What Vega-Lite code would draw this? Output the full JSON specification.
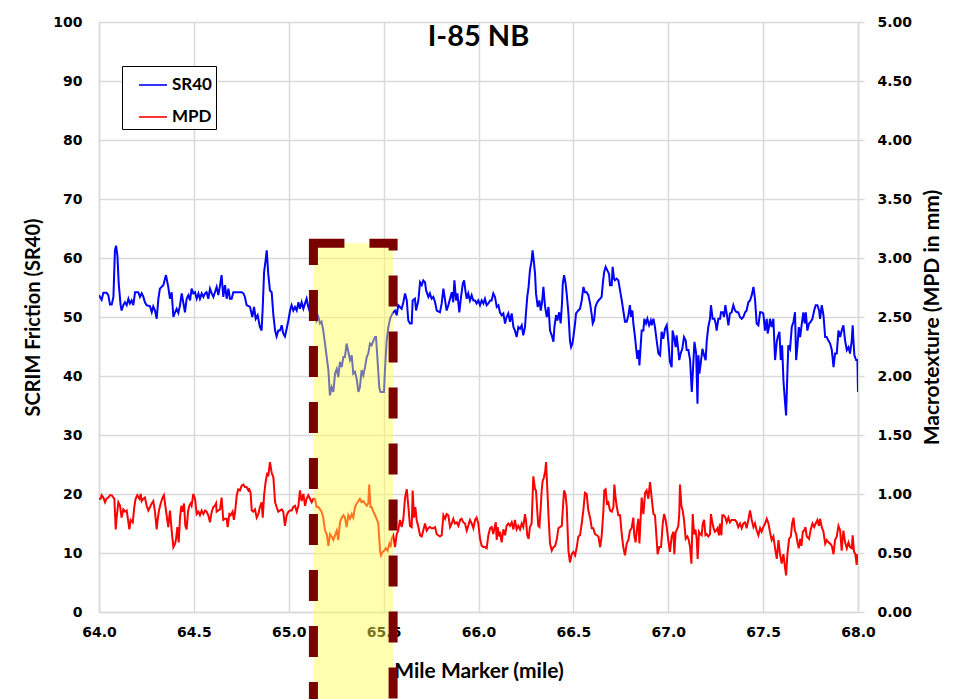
{
  "$schema": "https://vega.github.io/schema/vega-lite/v6.json",
  "width": 759,
  "height": 590,
  "autosize": {"type": "none"},
  "padding": {"left": 99, "top": 22, "right": 101, "bottom": 87},
  "background": "#ffffff",
  "title": {
    "text": "I-85 NB",
    "font": "Lato",
    "fontSize": 29,
    "fontWeight": "bold",
    "color": "#000000",
    "anchor": "middle",
    "offset": -37
  },
  "config": {
    "view": {"stroke": null},
    "axis": {
      "labelFont": "DejaVu Sans",
      "labelFontWeight": "bold",
      "labelFontSize": 14,
      "labelColor": "#000000",
      "labelFlush": false,
      "labelOverlap": false,
      "titleFont": "Lato",
      "titleFontWeight": "bold",
      "titleFontSize": 20,
      "titleColor": "#000000",
      "domainColor": "#d9d9d9",
      "domainWidth": 1.5,
      "gridColor": "#d9d9d9",
      "gridWidth": 1.5,
      "tickColor": "#d9d9d9",
      "tickWidth": 1.5
    }
  },
  "datasets": {
    "sr40": [
      {"mile":64.000,"SR40":53.7},{"mile":64.014,"SR40":52.9},{"mile":64.023,"SR40":54.1},{"mile":64.040,"SR40":54.1},
      {"mile":64.049,"SR40":53.7},{"mile":64.058,"SR40":52.1},{"mile":64.067,"SR40":52.1},{"mile":64.076,"SR40":53.4},
      {"mile":64.084,"SR40":61.3},{"mile":64.090,"SR40":62.1},{"mile":64.097,"SR40":60.4},{"mile":64.104,"SR40":55.6},
      {"mile":64.114,"SR40":52.0},{"mile":64.119,"SR40":51.1},{"mile":64.128,"SR40":52.0},{"mile":64.137,"SR40":52.5},
      {"mile":64.146,"SR40":52.0},{"mile":64.155,"SR40":53.1},{"mile":64.163,"SR40":52.3},{"mile":64.172,"SR40":52.8},
      {"mile":64.181,"SR40":52.0},{"mile":64.190,"SR40":54.2},{"mile":64.207,"SR40":54.2},{"mile":64.216,"SR40":53.4},
      {"mile":64.225,"SR40":54.0},{"mile":64.234,"SR40":53.4},{"mile":64.242,"SR40":52.5},{"mile":64.251,"SR40":52.0},
      {"mile":64.269,"SR40":51.8},{"mile":64.278,"SR40":50.8},{"mile":64.286,"SR40":51.8},{"mile":64.295,"SR40":51.1},
      {"mile":64.304,"SR40":49.7},{"mile":64.313,"SR40":53.1},{"mile":64.321,"SR40":54.8},{"mile":64.339,"SR40":55.4},
      {"mile":64.353,"SR40":57.1},{"mile":64.365,"SR40":55.1},{"mile":64.374,"SR40":53.1},{"mile":64.383,"SR40":54.2},
      {"mile":64.392,"SR40":50.0},{"mile":64.401,"SR40":50.8},{"mile":64.409,"SR40":51.4},{"mile":64.418,"SR40":50.7},
      {"mile":64.427,"SR40":52.0},{"mile":64.436,"SR40":54.0},{"mile":64.444,"SR40":52.5},{"mile":64.453,"SR40":50.8},
      {"mile":64.462,"SR40":53.1},{"mile":64.471,"SR40":53.7},{"mile":64.480,"SR40":52.8},{"mile":64.488,"SR40":54.8},
      {"mile":64.497,"SR40":54.0},{"mile":64.506,"SR40":54.2},{"mile":64.515,"SR40":53.1},{"mile":64.524,"SR40":54.0},
      {"mile":64.532,"SR40":53.1},{"mile":64.541,"SR40":54.0},{"mile":64.550,"SR40":53.4},{"mile":64.559,"SR40":54.0},
      {"mile":64.567,"SR40":54.2},{"mile":64.576,"SR40":53.1},{"mile":64.585,"SR40":54.8},{"mile":64.594,"SR40":54.0},
      {"mile":64.603,"SR40":53.4},{"mile":64.611,"SR40":54.2},{"mile":64.620,"SR40":55.1},{"mile":64.629,"SR40":53.7},
      {"mile":64.638,"SR40":55.4},{"mile":64.646,"SR40":57.1},{"mile":64.655,"SR40":53.4},{"mile":64.664,"SR40":55.4},
      {"mile":64.673,"SR40":53.1},{"mile":64.682,"SR40":54.8},{"mile":64.690,"SR40":53.1},{"mile":64.699,"SR40":53.1},
      {"mile":64.708,"SR40":54.2},{"mile":64.726,"SR40":54.2},{"mile":64.752,"SR40":54.2},{"mile":64.761,"SR40":54.0},
      {"mile":64.769,"SR40":53.4},{"mile":64.778,"SR40":52.0},{"mile":64.796,"SR40":51.7},{"mile":64.808,"SR40":50.0},
      {"mile":64.817,"SR40":51.7},{"mile":64.826,"SR40":49.7},{"mile":64.836,"SR40":50.3},{"mile":64.848,"SR40":48.3},
      {"mile":64.857,"SR40":47.7},{"mile":64.863,"SR40":51.7},{"mile":64.870,"SR40":57.6},{"mile":64.878,"SR40":59.6},
      {"mile":64.884,"SR40":61.3},{"mile":64.892,"SR40":57.3},{"mile":64.901,"SR40":54.5},{"mile":64.910,"SR40":54.2},
      {"mile":64.919,"SR40":50.3},{"mile":64.928,"SR40":47.7},{"mile":64.936,"SR40":46.7},{"mile":64.945,"SR40":47.7},
      {"mile":64.954,"SR40":47.7},{"mile":64.963,"SR40":48.6},{"mile":64.971,"SR40":47.2},{"mile":64.980,"SR40":46.7},
      {"mile":64.989,"SR40":48.0},{"mile":64.998,"SR40":49.4},{"mile":65.007,"SR40":51.1},{"mile":65.015,"SR40":52.0},
      {"mile":65.024,"SR40":51.1},{"mile":65.033,"SR40":51.7},{"mile":65.042,"SR40":51.1},{"mile":65.051,"SR40":52.5},
      {"mile":65.059,"SR40":51.4},{"mile":65.068,"SR40":52.5},{"mile":65.077,"SR40":51.4},{"mile":65.086,"SR40":52.3},
      {"mile":65.094,"SR40":53.1},{"mile":65.103,"SR40":51.7},{"mile":65.112,"SR40":50.8},{"mile":65.117,"SR40":49.7},
      {"mile":65.130,"SR40":51.4},{"mile":65.138,"SR40":52.0},{"mile":65.147,"SR40":49.4},{"mile":65.156,"SR40":50.0},
      {"mile":65.165,"SR40":48.9},{"mile":65.173,"SR40":49.2},{"mile":65.182,"SR40":47.7},{"mile":65.191,"SR40":45.5},
      {"mile":65.200,"SR40":43.2},{"mile":65.209,"SR40":41.0},{"mile":65.217,"SR40":36.7},{"mile":65.226,"SR40":38.1},
      {"mile":65.235,"SR40":37.3},{"mile":65.244,"SR40":40.4},{"mile":65.253,"SR40":41.2},{"mile":65.261,"SR40":39.8},
      {"mile":65.270,"SR40":42.4},{"mile":65.279,"SR40":41.5},{"mile":65.288,"SR40":43.2},{"mile":65.296,"SR40":43.2},
      {"mile":65.305,"SR40":45.5},{"mile":65.314,"SR40":44.1},{"mile":65.323,"SR40":42.7},{"mile":65.332,"SR40":43.5},
      {"mile":65.340,"SR40":40.4},{"mile":65.349,"SR40":40.7},{"mile":65.358,"SR40":39.5},{"mile":65.367,"SR40":37.3},
      {"mile":65.375,"SR40":38.1},{"mile":65.384,"SR40":41.0},{"mile":65.393,"SR40":40.1},{"mile":65.402,"SR40":41.5},
      {"mile":65.411,"SR40":43.2},{"mile":65.419,"SR40":43.8},{"mile":65.428,"SR40":45.5},{"mile":65.437,"SR40":45.2},
      {"mile":65.446,"SR40":46.0},{"mile":65.455,"SR40":46.6},{"mile":65.460,"SR40":46.6},{"mile":65.467,"SR40":43.2},
      {"mile":65.477,"SR40":38.1},{"mile":65.484,"SR40":37.3},{"mile":65.495,"SR40":37.3},{"mile":65.502,"SR40":37.3},
      {"mile":65.507,"SR40":41.0},{"mile":65.516,"SR40":46.0},{"mile":65.525,"SR40":48.3},{"mile":65.534,"SR40":49.7},
      {"mile":65.542,"SR40":50.3},{"mile":65.551,"SR40":50.8},{"mile":65.560,"SR40":51.1},{"mile":65.569,"SR40":50.3},
      {"mile":65.577,"SR40":52.0},{"mile":65.586,"SR40":51.7},{"mile":65.595,"SR40":51.4},{"mile":65.604,"SR40":52.5},
      {"mile":65.613,"SR40":54.0},{"mile":65.622,"SR40":52.8},{"mile":65.630,"SR40":49.4},{"mile":65.639,"SR40":48.9},
      {"mile":65.648,"SR40":48.9},{"mile":65.653,"SR40":52.8},{"mile":65.665,"SR40":53.1},{"mile":65.671,"SR40":51.1},
      {"mile":65.683,"SR40":52.8},{"mile":65.692,"SR40":55.9},{"mile":65.701,"SR40":55.4},{"mile":65.709,"SR40":56.2},
      {"mile":65.718,"SR40":55.9},{"mile":65.724,"SR40":54.5},{"mile":65.736,"SR40":53.4},{"mile":65.744,"SR40":54.0},
      {"mile":65.753,"SR40":53.1},{"mile":65.762,"SR40":53.4},{"mile":65.771,"SR40":52.5},{"mile":65.780,"SR40":51.1},
      {"mile":65.797,"SR40":50.8},{"mile":65.806,"SR40":52.3},{"mile":65.815,"SR40":54.8},{"mile":65.824,"SR40":52.8},
      {"mile":65.832,"SR40":51.1},{"mile":65.841,"SR40":52.0},{"mile":65.850,"SR40":53.1},{"mile":65.859,"SR40":54.2},
      {"mile":65.867,"SR40":52.5},{"mile":65.873,"SR40":56.2},{"mile":65.882,"SR40":52.8},{"mile":65.889,"SR40":54.0},
      {"mile":65.899,"SR40":50.8},{"mile":65.908,"SR40":53.4},{"mile":65.917,"SR40":55.6},{"mile":65.924,"SR40":56.2},
      {"mile":65.932,"SR40":54.2},{"mile":65.938,"SR40":53.1},{"mile":65.946,"SR40":54.0},{"mile":65.955,"SR40":52.8},
      {"mile":65.964,"SR40":53.7},{"mile":65.973,"SR40":52.8},{"mile":65.982,"SR40":52.8},{"mile":65.990,"SR40":52.3},
      {"mile":65.999,"SR40":52.8},{"mile":66.008,"SR40":52.0},{"mile":66.017,"SR40":52.8},{"mile":66.026,"SR40":52.3},
      {"mile":66.034,"SR40":53.1},{"mile":66.043,"SR40":52.0},{"mile":66.052,"SR40":52.3},{"mile":66.061,"SR40":52.8},
      {"mile":66.069,"SR40":52.8},{"mile":66.078,"SR40":54.0},{"mile":66.087,"SR40":53.4},{"mile":66.096,"SR40":51.7},
      {"mile":66.105,"SR40":52.0},{"mile":66.113,"SR40":50.8},{"mile":66.122,"SR40":50.3},{"mile":66.131,"SR40":50.6},
      {"mile":66.140,"SR40":48.9},{"mile":66.148,"SR40":50.0},{"mile":66.157,"SR40":50.6},{"mile":66.166,"SR40":49.2},
      {"mile":66.175,"SR40":50.6},{"mile":66.184,"SR40":48.3},{"mile":66.192,"SR40":47.7},{"mile":66.201,"SR40":46.6},
      {"mile":66.210,"SR40":48.3},{"mile":66.219,"SR40":48.0},{"mile":66.228,"SR40":48.6},{"mile":66.236,"SR40":46.9},
      {"mile":66.245,"SR40":48.3},{"mile":66.250,"SR40":50.6},{"mile":66.257,"SR40":53.4},{"mile":66.264,"SR40":55.1},
      {"mile":66.271,"SR40":57.9},{"mile":66.280,"SR40":59.6},{"mile":66.285,"SR40":61.3},{"mile":66.293,"SR40":59.0},
      {"mile":66.298,"SR40":57.3},{"mile":66.303,"SR40":54.0},{"mile":66.312,"SR40":51.7},{"mile":66.321,"SR40":52.8},
      {"mile":66.328,"SR40":51.1},{"mile":66.335,"SR40":52.5},{"mile":66.342,"SR40":55.1},{"mile":66.351,"SR40":51.7},
      {"mile":66.360,"SR40":50.0},{"mile":66.369,"SR40":51.7},{"mile":66.377,"SR40":47.7},{"mile":66.386,"SR40":46.9},
      {"mile":66.395,"SR40":45.8},{"mile":66.400,"SR40":48.3},{"mile":66.409,"SR40":50.3},{"mile":66.416,"SR40":49.4},
      {"mile":66.425,"SR40":50.8},{"mile":66.433,"SR40":48.9},{"mile":66.440,"SR40":52.3},{"mile":66.444,"SR40":55.6},
      {"mile":66.451,"SR40":57.1},{"mile":66.458,"SR40":55.9},{"mile":66.465,"SR40":53.9},{"mile":66.474,"SR40":50.6},
      {"mile":66.482,"SR40":46.0},{"mile":66.488,"SR40":44.9},{"mile":66.495,"SR40":45.5},{"mile":66.500,"SR40":46.6},
      {"mile":66.509,"SR40":48.9},{"mile":66.514,"SR40":50.6},{"mile":66.526,"SR40":51.1},{"mile":66.535,"SR40":51.4},
      {"mile":66.544,"SR40":52.8},{"mile":66.553,"SR40":55.1},{"mile":66.561,"SR40":54.2},{"mile":66.570,"SR40":54.2},
      {"mile":66.579,"SR40":53.7},{"mile":66.588,"SR40":52.3},{"mile":66.597,"SR40":50.3},{"mile":66.602,"SR40":48.9},
      {"mile":66.609,"SR40":49.4},{"mile":66.616,"SR40":51.7},{"mile":66.623,"SR40":52.3},{"mile":66.632,"SR40":52.8},
      {"mile":66.641,"SR40":53.1},{"mile":66.649,"SR40":53.4},{"mile":66.655,"SR40":55.6},{"mile":66.662,"SR40":57.6},
      {"mile":66.670,"SR40":58.5},{"mile":66.679,"SR40":57.9},{"mile":66.688,"SR40":57.3},{"mile":66.693,"SR40":55.4},
      {"mile":66.702,"SR40":55.4},{"mile":66.707,"SR40":58.5},{"mile":66.714,"SR40":56.5},{"mile":66.719,"SR40":56.2},
      {"mile":66.728,"SR40":56.5},{"mile":66.737,"SR40":56.2},{"mile":66.746,"SR40":54.5},{"mile":66.755,"SR40":52.8},
      {"mile":66.763,"SR40":51.1},{"mile":66.772,"SR40":49.2},{"mile":66.781,"SR40":49.2},{"mile":66.790,"SR40":50.3},
      {"mile":66.798,"SR40":52.0},{"mile":66.804,"SR40":50.0},{"mile":66.811,"SR40":51.1},{"mile":66.816,"SR40":48.9},
      {"mile":66.825,"SR40":46.6},{"mile":66.830,"SR40":44.9},{"mile":66.837,"SR40":42.9},{"mile":66.844,"SR40":44.4},
      {"mile":66.848,"SR40":41.8},{"mile":66.860,"SR40":47.7},{"mile":66.869,"SR40":47.7},{"mile":66.874,"SR40":49.7},
      {"mile":66.883,"SR40":48.9},{"mile":66.890,"SR40":49.7},{"mile":66.899,"SR40":48.6},{"mile":66.908,"SR40":49.4},
      {"mile":66.913,"SR40":48.6},{"mile":66.922,"SR40":49.7},{"mile":66.930,"SR40":48.3},{"mile":66.939,"SR40":46.0},
      {"mile":66.948,"SR40":43.8},{"mile":66.957,"SR40":43.5},{"mile":66.965,"SR40":47.5},{"mile":66.974,"SR40":46.3},
      {"mile":66.983,"SR40":48.0},{"mile":66.992,"SR40":48.6},{"mile":67.000,"SR40":46.0},{"mile":67.009,"SR40":42.4},
      {"mile":67.018,"SR40":41.5},{"mile":67.023,"SR40":47.7},{"mile":67.032,"SR40":46.3},{"mile":67.039,"SR40":44.9},
      {"mile":67.044,"SR40":46.9},{"mile":67.053,"SR40":44.4},{"mile":67.058,"SR40":42.7},{"mile":67.065,"SR40":43.8},
      {"mile":67.074,"SR40":44.6},{"mile":67.083,"SR40":46.6},{"mile":67.092,"SR40":46.0},{"mile":67.097,"SR40":44.4},
      {"mile":67.106,"SR40":44.4},{"mile":67.115,"SR40":42.7},{"mile":67.124,"SR40":37.3},{"mile":67.132,"SR40":42.1},
      {"mile":67.138,"SR40":45.8},{"mile":67.147,"SR40":43.8},{"mile":67.154,"SR40":35.3},{"mile":67.159,"SR40":43.5},
      {"mile":67.164,"SR40":40.4},{"mile":67.171,"SR40":42.1},{"mile":67.180,"SR40":44.6},{"mile":67.189,"SR40":43.5},
      {"mile":67.197,"SR40":42.7},{"mile":67.203,"SR40":46.0},{"mile":67.211,"SR40":48.3},{"mile":67.220,"SR40":49.7},
      {"mile":67.225,"SR40":52.0},{"mile":67.234,"SR40":49.7},{"mile":67.243,"SR40":49.7},{"mile":67.250,"SR40":48.9},
      {"mile":67.255,"SR40":47.7},{"mile":67.264,"SR40":49.7},{"mile":67.273,"SR40":49.7},{"mile":67.278,"SR40":50.8},
      {"mile":67.287,"SR40":50.8},{"mile":67.294,"SR40":50.0},{"mile":67.301,"SR40":52.0},{"mile":67.308,"SR40":50.6},
      {"mile":67.317,"SR40":48.6},{"mile":67.325,"SR40":50.6},{"mile":67.334,"SR40":50.8},{"mile":67.343,"SR40":52.0},
      {"mile":67.352,"SR40":51.1},{"mile":67.361,"SR40":50.8},{"mile":67.369,"SR40":50.8},{"mile":67.378,"SR40":50.0},
      {"mile":67.387,"SR40":49.7},{"mile":67.396,"SR40":50.0},{"mile":67.405,"SR40":50.8},{"mile":67.413,"SR40":51.1},
      {"mile":67.422,"SR40":52.5},{"mile":67.431,"SR40":52.8},{"mile":67.440,"SR40":53.7},{"mile":67.449,"SR40":55.1},
      {"mile":67.457,"SR40":53.1},{"mile":67.466,"SR40":48.9},{"mile":67.475,"SR40":48.6},{"mile":67.484,"SR40":50.8},
      {"mile":67.492,"SR40":50.8},{"mile":67.501,"SR40":50.6},{"mile":67.510,"SR40":47.7},{"mile":67.519,"SR40":49.7},
      {"mile":67.524,"SR40":47.2},{"mile":67.531,"SR40":48.3},{"mile":67.536,"SR40":49.7},{"mile":67.545,"SR40":48.3},
      {"mile":67.554,"SR40":49.7},{"mile":67.563,"SR40":42.7},{"mile":67.572,"SR40":45.8},{"mile":67.577,"SR40":46.6},
      {"mile":67.586,"SR40":47.5},{"mile":67.593,"SR40":42.7},{"mile":67.600,"SR40":45.2},{"mile":67.607,"SR40":39.3},
      {"mile":67.616,"SR40":35.3},{"mile":67.621,"SR40":33.3},{"mile":67.628,"SR40":40.7},{"mile":67.633,"SR40":45.2},
      {"mile":67.642,"SR40":44.6},{"mile":67.651,"SR40":48.3},{"mile":67.660,"SR40":49.2},{"mile":67.668,"SR40":50.8},
      {"mile":67.674,"SR40":42.7},{"mile":67.681,"SR40":45.2},{"mile":67.688,"SR40":48.3},{"mile":67.695,"SR40":46.6},
      {"mile":67.704,"SR40":48.9},{"mile":67.712,"SR40":50.8},{"mile":67.719,"SR40":48.9},{"mile":67.725,"SR40":50.8},
      {"mile":67.733,"SR40":47.7},{"mile":67.742,"SR40":48.9},{"mile":67.751,"SR40":49.2},{"mile":67.760,"SR40":49.7},
      {"mile":67.769,"SR40":51.1},{"mile":67.777,"SR40":52.0},{"mile":67.786,"SR40":52.0},{"mile":67.795,"SR40":51.1},
      {"mile":67.800,"SR40":49.7},{"mile":67.809,"SR40":52.0},{"mile":67.818,"SR40":50.3},{"mile":67.827,"SR40":46.6},
      {"mile":67.835,"SR40":46.6},{"mile":67.844,"SR40":46.0},{"mile":67.853,"SR40":45.5},{"mile":67.862,"SR40":44.4},
      {"mile":67.871,"SR40":41.5},{"mile":67.879,"SR40":43.8},{"mile":67.888,"SR40":43.8},{"mile":67.897,"SR40":47.7},
      {"mile":67.906,"SR40":46.6},{"mile":67.914,"SR40":47.7},{"mile":67.923,"SR40":48.6},{"mile":67.932,"SR40":46.0},
      {"mile":67.941,"SR40":44.4},{"mile":67.950,"SR40":44.9},{"mile":67.958,"SR40":43.8},{"mile":67.967,"SR40":46.0},
      {"mile":67.972,"SR40":48.6},{"mile":67.976,"SR40":46.0},{"mile":67.981,"SR40":43.5},{"mile":67.990,"SR40":42.7},
      {"mile":67.997,"SR40":42.7},{"mile":68.000,"SR40":37.3}
    ],
    "mpd": [
      {"mile":64.000,"MPD":0.96},{"mile":64.009,"MPD":0.96},{"mile":64.014,"MPD":0.99},{"mile":64.023,"MPD":0.97},
      {"mile":64.032,"MPD":0.93},{"mile":64.040,"MPD":0.96},{"mile":64.049,"MPD":0.97},{"mile":64.058,"MPD":0.99},
      {"mile":64.067,"MPD":0.99},{"mile":64.076,"MPD":0.97},{"mile":64.081,"MPD":0.96},{"mile":64.088,"MPD":0.70},
      {"mile":64.093,"MPD":0.80},{"mile":64.102,"MPD":0.93},{"mile":64.111,"MPD":0.90},{"mile":64.119,"MPD":0.80},
      {"mile":64.128,"MPD":0.87},{"mile":64.137,"MPD":0.85},{"mile":64.146,"MPD":0.86},{"mile":64.155,"MPD":0.76},
      {"mile":64.160,"MPD":0.70},{"mile":64.167,"MPD":0.78},{"mile":64.178,"MPD":0.76},{"mile":64.186,"MPD":0.89},
      {"mile":64.193,"MPD":0.96},{"mile":64.202,"MPD":0.99},{"mile":64.213,"MPD":0.96},{"mile":64.220,"MPD":1.00},
      {"mile":64.225,"MPD":0.94},{"mile":64.234,"MPD":0.96},{"mile":64.242,"MPD":0.97},{"mile":64.251,"MPD":0.90},
      {"mile":64.260,"MPD":0.86},{"mile":64.269,"MPD":0.89},{"mile":64.278,"MPD":0.92},{"mile":64.286,"MPD":0.94},
      {"mile":64.295,"MPD":0.85},{"mile":64.304,"MPD":0.70},{"mile":64.309,"MPD":0.78},{"mile":64.316,"MPD":0.86},
      {"mile":64.325,"MPD":0.92},{"mile":64.335,"MPD":0.97},{"mile":64.342,"MPD":0.99},{"mile":64.353,"MPD":0.86},
      {"mile":64.365,"MPD":0.72},{"mile":64.374,"MPD":0.86},{"mile":64.383,"MPD":0.69},{"mile":64.392,"MPD":0.55},
      {"mile":64.401,"MPD":0.58},{"mile":64.406,"MPD":0.62},{"mile":64.413,"MPD":0.72},{"mile":64.420,"MPD":0.59},
      {"mile":64.427,"MPD":0.80},{"mile":64.434,"MPD":0.90},{"mile":64.441,"MPD":0.85},{"mile":64.448,"MPD":0.92},
      {"mile":64.455,"MPD":0.73},{"mile":64.462,"MPD":0.70},{"mile":64.469,"MPD":0.85},{"mile":64.476,"MPD":0.90},
      {"mile":64.483,"MPD":0.92},{"mile":64.488,"MPD":0.90},{"mile":64.497,"MPD":1.00},{"mile":64.506,"MPD":0.96},
      {"mile":64.515,"MPD":0.83},{"mile":64.524,"MPD":0.85},{"mile":64.532,"MPD":0.82},{"mile":64.541,"MPD":0.86},
      {"mile":64.550,"MPD":0.83},{"mile":64.559,"MPD":0.86},{"mile":64.567,"MPD":0.85},{"mile":64.576,"MPD":0.82},
      {"mile":64.585,"MPD":0.76},{"mile":64.594,"MPD":0.85},{"mile":64.603,"MPD":0.89},{"mile":64.611,"MPD":0.90},
      {"mile":64.617,"MPD":0.92},{"mile":64.620,"MPD":0.85},{"mile":64.629,"MPD":0.86},{"mile":64.638,"MPD":0.87},
      {"mile":64.646,"MPD":0.97},{"mile":64.655,"MPD":0.78},{"mile":64.664,"MPD":0.79},{"mile":64.673,"MPD":0.79},
      {"mile":64.678,"MPD":0.72},{"mile":64.687,"MPD":0.83},{"mile":64.694,"MPD":0.82},{"mile":64.704,"MPD":0.85},
      {"mile":64.711,"MPD":0.78},{"mile":64.718,"MPD":0.86},{"mile":64.726,"MPD":0.99},{"mile":64.734,"MPD":1.04},
      {"mile":64.743,"MPD":1.03},{"mile":64.752,"MPD":1.07},{"mile":64.761,"MPD":1.08},{"mile":64.769,"MPD":1.06},
      {"mile":64.778,"MPD":1.06},{"mile":64.787,"MPD":1.03},{"mile":64.792,"MPD":1.04},{"mile":64.799,"MPD":1.01},
      {"mile":64.805,"MPD":0.86},{"mile":64.813,"MPD":0.85},{"mile":64.822,"MPD":0.87},{"mile":64.831,"MPD":0.80},
      {"mile":64.840,"MPD":0.83},{"mile":64.848,"MPD":0.89},{"mile":64.857,"MPD":0.93},{"mile":64.863,"MPD":0.80},
      {"mile":64.870,"MPD":0.99},{"mile":64.878,"MPD":1.10},{"mile":64.887,"MPD":1.18},{"mile":64.892,"MPD":1.15},
      {"mile":64.901,"MPD":1.27},{"mile":64.910,"MPD":1.18},{"mile":64.919,"MPD":1.14},{"mile":64.928,"MPD":0.93},
      {"mile":64.936,"MPD":0.89},{"mile":64.945,"MPD":0.85},{"mile":64.954,"MPD":0.86},{"mile":64.963,"MPD":0.87},
      {"mile":64.971,"MPD":0.85},{"mile":64.980,"MPD":0.73},{"mile":64.989,"MPD":0.82},{"mile":64.998,"MPD":0.85},
      {"mile":65.007,"MPD":0.86},{"mile":65.015,"MPD":0.86},{"mile":65.024,"MPD":0.89},{"mile":65.033,"MPD":0.90},
      {"mile":65.042,"MPD":0.85},{"mile":65.051,"MPD":0.90},{"mile":65.059,"MPD":1.03},{"mile":65.068,"MPD":0.94},
      {"mile":65.077,"MPD":1.00},{"mile":65.086,"MPD":0.90},{"mile":65.094,"MPD":0.96},{"mile":65.103,"MPD":0.99},
      {"mile":65.112,"MPD":0.96},{"mile":65.121,"MPD":0.93},{"mile":65.130,"MPD":0.96},{"mile":65.138,"MPD":0.96},
      {"mile":65.147,"MPD":0.89},{"mile":65.156,"MPD":0.89},{"mile":65.165,"MPD":0.87},{"mile":65.173,"MPD":0.85},
      {"mile":65.182,"MPD":0.80},{"mile":65.191,"MPD":0.69},{"mile":65.200,"MPD":0.66},{"mile":65.209,"MPD":0.56},
      {"mile":65.217,"MPD":0.66},{"mile":65.226,"MPD":0.64},{"mile":65.235,"MPD":0.61},{"mile":65.244,"MPD":0.65},
      {"mile":65.253,"MPD":0.69},{"mile":65.261,"MPD":0.61},{"mile":65.270,"MPD":0.76},{"mile":65.279,"MPD":0.80},
      {"mile":65.288,"MPD":0.82},{"mile":65.296,"MPD":0.80},{"mile":65.305,"MPD":0.72},{"mile":65.314,"MPD":0.82},
      {"mile":65.323,"MPD":0.79},{"mile":65.332,"MPD":0.83},{"mile":65.340,"MPD":0.80},{"mile":65.349,"MPD":0.89},
      {"mile":65.358,"MPD":0.92},{"mile":65.367,"MPD":0.94},{"mile":65.375,"MPD":0.96},{"mile":65.384,"MPD":0.93},
      {"mile":65.393,"MPD":0.94},{"mile":65.402,"MPD":0.92},{"mile":65.411,"MPD":0.90},{"mile":65.419,"MPD":0.92},
      {"mile":65.424,"MPD":1.08},{"mile":65.431,"MPD":0.89},{"mile":65.437,"MPD":0.89},{"mile":65.446,"MPD":0.85},
      {"mile":65.455,"MPD":0.82},{"mile":65.463,"MPD":0.79},{"mile":65.472,"MPD":0.75},{"mile":65.481,"MPD":0.52},
      {"mile":65.486,"MPD":0.48},{"mile":65.495,"MPD":0.51},{"mile":65.504,"MPD":0.52},{"mile":65.512,"MPD":0.54},
      {"mile":65.521,"MPD":0.52},{"mile":65.530,"MPD":0.58},{"mile":65.537,"MPD":0.55},{"mile":65.542,"MPD":0.62},
      {"mile":65.551,"MPD":0.65},{"mile":65.560,"MPD":0.55},{"mile":65.569,"MPD":0.66},{"mile":65.577,"MPD":0.69},
      {"mile":65.586,"MPD":0.78},{"mile":65.595,"MPD":0.72},{"mile":65.604,"MPD":0.79},{"mile":65.613,"MPD":0.97},
      {"mile":65.622,"MPD":1.04},{"mile":65.630,"MPD":0.90},{"mile":65.639,"MPD":0.73},{"mile":65.648,"MPD":0.72},
      {"mile":65.653,"MPD":1.03},{"mile":65.660,"MPD":0.80},{"mile":65.667,"MPD":0.89},{"mile":65.674,"MPD":0.78},
      {"mile":65.683,"MPD":0.72},{"mile":65.692,"MPD":0.65},{"mile":65.701,"MPD":0.64},{"mile":65.709,"MPD":0.69},
      {"mile":65.718,"MPD":0.75},{"mile":65.727,"MPD":0.69},{"mile":65.736,"MPD":0.71},{"mile":65.744,"MPD":0.72},
      {"mile":65.753,"MPD":0.71},{"mile":65.762,"MPD":0.71},{"mile":65.771,"MPD":0.72},{"mile":65.780,"MPD":0.66},
      {"mile":65.788,"MPD":0.65},{"mile":65.797,"MPD":0.64},{"mile":65.806,"MPD":0.65},{"mile":65.815,"MPD":0.82},
      {"mile":65.824,"MPD":0.79},{"mile":65.832,"MPD":0.83},{"mile":65.841,"MPD":0.82},{"mile":65.850,"MPD":0.72},
      {"mile":65.859,"MPD":0.75},{"mile":65.867,"MPD":0.79},{"mile":65.876,"MPD":0.75},{"mile":65.885,"MPD":0.76},
      {"mile":65.894,"MPD":0.73},{"mile":65.903,"MPD":0.78},{"mile":65.911,"MPD":0.79},{"mile":65.920,"MPD":0.76},
      {"mile":65.929,"MPD":0.75},{"mile":65.938,"MPD":0.69},{"mile":65.946,"MPD":0.73},{"mile":65.955,"MPD":0.78},
      {"mile":65.964,"MPD":0.75},{"mile":65.973,"MPD":0.71},{"mile":65.982,"MPD":0.78},{"mile":65.990,"MPD":0.80},
      {"mile":65.999,"MPD":0.75},{"mile":66.008,"MPD":0.62},{"mile":66.017,"MPD":0.56},{"mile":66.026,"MPD":0.55},
      {"mile":66.034,"MPD":0.55},{"mile":66.043,"MPD":0.54},{"mile":66.052,"MPD":0.65},{"mile":66.061,"MPD":0.71},
      {"mile":66.069,"MPD":0.72},{"mile":66.078,"MPD":0.66},{"mile":66.084,"MPD":0.71},{"mile":66.091,"MPD":0.76},
      {"mile":66.096,"MPD":0.61},{"mile":66.101,"MPD":0.72},{"mile":66.108,"MPD":0.64},{"mile":66.113,"MPD":0.68},
      {"mile":66.122,"MPD":0.59},{"mile":66.131,"MPD":0.70},{"mile":66.140,"MPD":0.65},{"mile":66.148,"MPD":0.73},
      {"mile":66.157,"MPD":0.75},{"mile":66.166,"MPD":0.73},{"mile":66.175,"MPD":0.76},{"mile":66.184,"MPD":0.70},
      {"mile":66.192,"MPD":0.78},{"mile":66.201,"MPD":0.70},{"mile":66.210,"MPD":0.73},{"mile":66.219,"MPD":0.70},
      {"mile":66.228,"MPD":0.75},{"mile":66.236,"MPD":0.72},{"mile":66.245,"MPD":0.83},{"mile":66.250,"MPD":0.78},
      {"mile":66.257,"MPD":0.65},{"mile":66.264,"MPD":0.62},{"mile":66.271,"MPD":0.72},{"mile":66.280,"MPD":0.75},
      {"mile":66.289,"MPD":1.15},{"mile":66.298,"MPD":1.04},{"mile":66.303,"MPD":1.03},{"mile":66.310,"MPD":0.85},
      {"mile":66.315,"MPD":0.73},{"mile":66.321,"MPD":0.72},{"mile":66.328,"MPD":0.89},{"mile":66.333,"MPD":1.03},
      {"mile":66.338,"MPD":1.11},{"mile":66.345,"MPD":1.14},{"mile":66.352,"MPD":1.20},{"mile":66.356,"MPD":1.27},
      {"mile":66.363,"MPD":1.03},{"mile":66.370,"MPD":0.78},{"mile":66.377,"MPD":0.58},{"mile":66.386,"MPD":0.52},
      {"mile":66.395,"MPD":0.55},{"mile":66.404,"MPD":0.56},{"mile":66.413,"MPD":0.62},{"mile":66.421,"MPD":0.71},
      {"mile":66.430,"MPD":0.72},{"mile":66.439,"MPD":0.73},{"mile":66.444,"MPD":0.86},{"mile":66.451,"MPD":1.03},
      {"mile":66.458,"MPD":1.00},{"mile":66.465,"MPD":0.89},{"mile":66.474,"MPD":0.52},{"mile":66.482,"MPD":0.42},
      {"mile":66.491,"MPD":0.49},{"mile":66.500,"MPD":0.51},{"mile":66.509,"MPD":0.48},{"mile":66.518,"MPD":0.55},
      {"mile":66.526,"MPD":0.64},{"mile":66.535,"MPD":0.65},{"mile":66.544,"MPD":0.75},{"mile":66.553,"MPD":0.87},
      {"mile":66.561,"MPD":1.01},{"mile":66.570,"MPD":1.00},{"mile":66.579,"MPD":0.86},{"mile":66.588,"MPD":0.80},
      {"mile":66.597,"MPD":0.71},{"mile":66.605,"MPD":0.71},{"mile":66.614,"MPD":0.66},{"mile":66.623,"MPD":0.65},
      {"mile":66.632,"MPD":0.64},{"mile":66.641,"MPD":0.55},{"mile":66.649,"MPD":0.64},{"mile":66.658,"MPD":0.85},
      {"mile":66.663,"MPD":1.03},{"mile":66.670,"MPD":1.04},{"mile":66.677,"MPD":0.92},{"mile":66.684,"MPD":0.93},
      {"mile":66.693,"MPD":0.86},{"mile":66.702,"MPD":0.85},{"mile":66.711,"MPD":0.89},{"mile":66.716,"MPD":1.08},
      {"mile":66.723,"MPD":0.96},{"mile":66.728,"MPD":0.90},{"mile":66.737,"MPD":0.82},{"mile":66.746,"MPD":0.82},
      {"mile":66.755,"MPD":0.66},{"mile":66.763,"MPD":0.55},{"mile":66.772,"MPD":0.48},{"mile":66.781,"MPD":0.58},
      {"mile":66.790,"MPD":0.61},{"mile":66.798,"MPD":0.69},{"mile":66.807,"MPD":0.71},{"mile":66.816,"MPD":0.80},
      {"mile":66.821,"MPD":0.65},{"mile":66.828,"MPD":0.59},{"mile":66.834,"MPD":0.69},{"mile":66.842,"MPD":0.79},
      {"mile":66.848,"MPD":0.58},{"mile":66.860,"MPD":0.97},{"mile":66.869,"MPD":0.83},{"mile":66.878,"MPD":1.01},
      {"mile":66.886,"MPD":1.03},{"mile":66.895,"MPD":0.96},{"mile":66.904,"MPD":1.10},{"mile":66.913,"MPD":0.96},
      {"mile":66.922,"MPD":0.83},{"mile":66.930,"MPD":0.82},{"mile":66.939,"MPD":0.61},{"mile":66.944,"MPD":0.49},
      {"mile":66.953,"MPD":0.55},{"mile":66.962,"MPD":0.55},{"mile":66.971,"MPD":0.75},{"mile":66.978,"MPD":0.83},
      {"mile":66.985,"MPD":0.79},{"mile":66.992,"MPD":0.72},{"mile":67.000,"MPD":0.61},{"mile":67.009,"MPD":0.51},
      {"mile":67.018,"MPD":0.64},{"mile":67.027,"MPD":0.68},{"mile":67.032,"MPD":0.49},{"mile":67.039,"MPD":0.68},
      {"mile":67.044,"MPD":0.69},{"mile":67.053,"MPD":0.73},{"mile":67.058,"MPD":0.83},{"mile":67.062,"MPD":1.08},
      {"mile":67.069,"MPD":0.90},{"mile":67.076,"MPD":0.86},{"mile":67.083,"MPD":0.78},{"mile":67.092,"MPD":0.62},
      {"mile":67.101,"MPD":0.64},{"mile":67.108,"MPD":0.61},{"mile":67.115,"MPD":0.55},{"mile":67.122,"MPD":0.41},
      {"mile":67.129,"MPD":0.83},{"mile":67.136,"MPD":0.66},{"mile":67.143,"MPD":0.70},{"mile":67.150,"MPD":0.62},
      {"mile":67.155,"MPD":0.45},{"mile":67.162,"MPD":0.68},{"mile":67.169,"MPD":0.66},{"mile":67.176,"MPD":0.65},
      {"mile":67.182,"MPD":0.75},{"mile":67.189,"MPD":0.78},{"mile":67.196,"MPD":0.65},{"mile":67.203,"MPD":0.66},
      {"mile":67.211,"MPD":0.64},{"mile":67.220,"MPD":0.66},{"mile":67.225,"MPD":0.83},{"mile":67.232,"MPD":0.76},
      {"mile":67.239,"MPD":0.71},{"mile":67.246,"MPD":0.68},{"mile":67.253,"MPD":0.69},{"mile":67.260,"MPD":0.71},
      {"mile":67.267,"MPD":0.65},{"mile":67.273,"MPD":0.75},{"mile":67.280,"MPD":0.65},{"mile":67.285,"MPD":0.82},
      {"mile":67.292,"MPD":0.82},{"mile":67.301,"MPD":0.80},{"mile":67.308,"MPD":0.76},{"mile":67.317,"MPD":0.80},
      {"mile":67.325,"MPD":0.76},{"mile":67.334,"MPD":0.78},{"mile":67.343,"MPD":0.78},{"mile":67.352,"MPD":0.78},
      {"mile":67.361,"MPD":0.76},{"mile":67.369,"MPD":0.72},{"mile":67.378,"MPD":0.75},{"mile":67.387,"MPD":0.71},
      {"mile":67.396,"MPD":0.75},{"mile":67.405,"MPD":0.76},{"mile":67.413,"MPD":0.71},{"mile":67.422,"MPD":0.78},
      {"mile":67.431,"MPD":0.86},{"mile":67.440,"MPD":0.78},{"mile":67.449,"MPD":0.72},{"mile":67.457,"MPD":0.75},
      {"mile":67.466,"MPD":0.69},{"mile":67.475,"MPD":0.65},{"mile":67.484,"MPD":0.71},{"mile":67.492,"MPD":0.68},
      {"mile":67.501,"MPD":0.72},{"mile":67.510,"MPD":0.75},{"mile":67.519,"MPD":0.79},{"mile":67.528,"MPD":0.75},
      {"mile":67.536,"MPD":0.68},{"mile":67.545,"MPD":0.61},{"mile":67.554,"MPD":0.64},{"mile":67.563,"MPD":0.54},
      {"mile":67.572,"MPD":0.45},{"mile":67.581,"MPD":0.61},{"mile":67.589,"MPD":0.49},{"mile":67.598,"MPD":0.41},
      {"mile":67.607,"MPD":0.49},{"mile":67.616,"MPD":0.37},{"mile":67.621,"MPD":0.31},{"mile":67.628,"MPD":0.49},
      {"mile":67.637,"MPD":0.62},{"mile":67.646,"MPD":0.64},{"mile":67.653,"MPD":0.75},{"mile":67.660,"MPD":0.80},
      {"mile":67.667,"MPD":0.69},{"mile":67.674,"MPD":0.66},{"mile":67.681,"MPD":0.59},{"mile":67.688,"MPD":0.54},
      {"mile":67.695,"MPD":0.62},{"mile":67.702,"MPD":0.56},{"mile":67.709,"MPD":0.68},{"mile":67.716,"MPD":0.69},
      {"mile":67.723,"MPD":0.72},{"mile":67.730,"MPD":0.64},{"mile":67.742,"MPD":0.62},{"mile":67.751,"MPD":0.70},
      {"mile":67.760,"MPD":0.75},{"mile":67.769,"MPD":0.72},{"mile":67.777,"MPD":0.75},{"mile":67.786,"MPD":0.78},
      {"mile":67.795,"MPD":0.73},{"mile":67.800,"MPD":0.79},{"mile":67.809,"MPD":0.72},{"mile":67.818,"MPD":0.68},
      {"mile":67.827,"MPD":0.58},{"mile":67.835,"MPD":0.61},{"mile":67.844,"MPD":0.59},{"mile":67.853,"MPD":0.58},
      {"mile":67.862,"MPD":0.56},{"mile":67.871,"MPD":0.49},{"mile":67.879,"MPD":0.61},{"mile":67.888,"MPD":0.64},
      {"mile":67.897,"MPD":0.73},{"mile":67.906,"MPD":0.69},{"mile":67.914,"MPD":0.52},{"mile":67.923,"MPD":0.69},
      {"mile":67.932,"MPD":0.59},{"mile":67.941,"MPD":0.54},{"mile":67.950,"MPD":0.59},{"mile":67.958,"MPD":0.55},
      {"mile":67.967,"MPD":0.54},{"mile":67.972,"MPD":0.65},{"mile":67.979,"MPD":0.51},{"mile":67.986,"MPD":0.49},
      {"mile":67.993,"MPD":0.40},{"mile":67.998,"MPD":0.49},{"mile":68.000,"MPD":0.48}
    ],
    "zone": [
      {"start": 65.13, "end": 65.55, "top": 3.125, "bottom": -0.8}
    ]
  },
  "layer": [
    {
      "data": {"name": "sr40"},
      "mark": {"type": "line", "strokeWidth": 2, "clip": true},
      "encoding": {
        "x": {
          "field": "mile",
          "type": "quantitative",
          "scale": {"domain": [64, 68], "nice": false, "zero": false},
          "axis": {
            "title": "Mile Marker (mile)",
            "values": [64, 64.5, 65, 65.5, 66, 66.5, 67, 67.5, 68],
            "format": ".1f",
            "ticks": false,
            "labelPadding": 13,
            "titleFontSize": 21,
            "titlePadding": 21
          }
        },
        "y": {
          "field": "SR40",
          "type": "quantitative",
          "scale": {"domain": [0, 100], "nice": false},
          "axis": {
            "title": "SCRIM Friction (SR40)",
            "orient": "left",
            "values": [0, 10, 20, 30, 40, 50, 60, 70, 80, 90, 100],
            "ticks": false,
            "labelPadding": 17,
            "titlePadding": 9
          }
        },
        "color": {
          "datum": "SR40",
          "scale": {"domain": ["SR40", "MPD"], "range": ["#0000ff", "#ff0000"]},
          "legend": {
            "orient": "none",
            "legendX": 23,
            "legendY": 44,
            "title": null,
            "fillColor": "#ffffff",
            "strokeColor": "#000000",
            "padding": 4,
            "rowPadding": 9,
            "symbolType": "stroke",
            "symbolSize": 784,
            "symbolStrokeWidth": 1.6,
            "symbolOffset": 12,
            "labelOffset": 4,
            "labelFont": "Lato",
            "labelFontSize": 17,
            "labelFontWeight": "bold",
            "labelColor": "#000000"
          }
        }
      }
    },
    {
      "layer": [
        {
          "data": {"name": "mpd"},
          "mark": {"type": "line", "strokeWidth": 2, "clip": true},
          "encoding": {
            "x": {"field": "mile", "type": "quantitative"},
            "y": {
              "field": "MPD",
              "type": "quantitative",
              "scale": {"domain": [0, 5], "nice": false},
              "axis": {
                "title": "Macrotexture (MPD in mm)",
                "orient": "right",
                "values": [0, 0.5, 1, 1.5, 2, 2.5, 3, 3.5, 4, 4.5, 5],
                "format": ".2f",
                "grid": false,
                "ticks": true,
                "tickSize": 6,
                "labelPadding": 13,
                "titleAngle": 270,
                "titleBaseline": "top",
                "titleFontSize": 21,
                "titlePadding": 10
              }
            },
            "color": {"datum": "MPD"}
          }
        },
        {
          "data": {"name": "zone"},
          "mark": {
            "type": "rect",
            "clip": false,
            "fill": "#ffff4d",
            "fillOpacity": 0.45,
            "stroke": "#7b0000",
            "strokeWidth": 9,
            "strokeDash": [31, 25]
          },
          "encoding": {
            "x": {"field": "start", "type": "quantitative"},
            "x2": {"field": "end"},
            "y": {
              "field": "top",
              "type": "quantitative",
              "scale": {"domain": [0, 5], "nice": false},
              "axis": {
                "title": "Macrotexture (MPD in mm)",
                "orient": "right",
                "values": [0, 0.5, 1, 1.5, 2, 2.5, 3, 3.5, 4, 4.5, 5],
                "format": ".2f",
                "grid": false,
                "ticks": true,
                "tickSize": 6,
                "labelPadding": 13,
                "titleAngle": 270,
                "titleBaseline": "top",
                "titleFontSize": 21,
                "titlePadding": 10
              }
            },
            "y2": {"field": "bottom"}
          }
        }
      ]
    }
  ],
  "resolve": {"scale": {"y": "independent"}}
}
